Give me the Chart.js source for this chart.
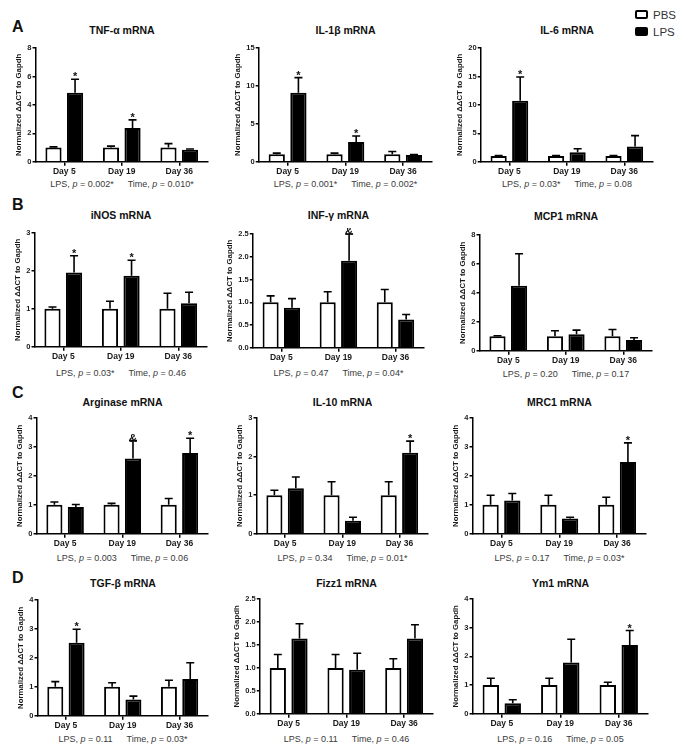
<!DOCTYPE html>
<html>
<head>
<meta charset="utf-8">
<script src="https://cdn.jsdelivr.net/npm/chart.js@4.4.1/dist/chart.umd.min.js"></script>
<style>
  html, body { margin: 0; padding: 0; background: #fff; }
  #fig { position: relative; width: 693px; height: 750px; overflow: hidden; font-family: 'Liberation Sans', Arial, sans-serif; color: #222; }
  #fig canvas { position: absolute; }
  .letter { position: absolute; font-weight: bold; font-size: 16px; line-height: 16px; color: #111; }
  .ttl { position: absolute; font-weight: bold; font-size: 10.5px; transform: translate(-50%, -50%); white-space: nowrap; color: #111; }
  .pval { position: absolute; font-size: 9px; color: #3a3a3a; transform: translate(-50%, -50%); white-space: nowrap; }
  .pval .gap { display: inline-block; width: 14px; }
  .key { position: absolute; left: 635px; width: 13px; height: 9px; box-sizing: border-box; border: 2px solid #000; border-radius: 2px; }
  .keytxt { position: absolute; left: 653px; font-size: 11.5px; line-height: 12px; color: #333; }
</style>
</head>
<body>
<div id="fig">
  <div class="letter" style="left:12px;top:19px">A</div>
  <div class="letter" style="left:12px;top:197px">B</div>
  <div class="letter" style="left:12px;top:385px">C</div>
  <div class="letter" style="left:12px;top:570px">D</div>
  <div class="key" style="top:10px;background:#fff"></div>
  <div class="keytxt" style="top:9px">PBS</div>
  <div class="key" style="top:27px;background:#000"></div>
  <div class="keytxt" style="top:26px">LPS</div>
</div>
<script>
const days = ['Day 5', 'Day 19', 'Day 36']

// A
const tnfPbs = [1, 1, 1]
const tnfPbsErr = [0.05, 0.1, 0.28]
const tnfLps = [4.85, 2.37, 0.85]
const tnfLpsErr = [0.95, 0.58, 0.05]
const tnfMarks = ['*', '*', '']

const il1bPbs = [1, 1, 1]
const il1bPbsErr = [0.15, 0.15, 0.35]
const il1bLps = [9.1, 2.6, 0.9]
const il1bLpsErr = [2.0, 0.8, 0.05]
const il1bMarks = ['*', '*', '']

const il6Pbs = [1, 1, 1]
const il6PbsErr = [0.1, 0.1, 0.1]
const il6Lps = [10.75, 1.7, 2.7]
const il6LpsErr = [4.15, 0.6, 1.9]
const il6Marks = ['*', '', '']

// B
const inosPbs = [1, 1, 1]
const inosPbsErr = [0.05, 0.2, 0.41]
const inosLps = [1.96, 1.87, 1.15]
const inosLpsErr = [0.44, 0.41, 0.29]
const inosMarks = ['*', '*', '']

const infgPbs = [1, 1, 1]
const infgPbsErr = [0.14, 0.23, 0.28]
const infgLps = [0.88, 1.91, 0.62]
const infgLpsErr = [0.2, 0.59, 0.11]
const infgMarks = ['', '&', '']

const mcp1Pbs = [1, 1, 1]
const mcp1PbsErr = [0.04, 0.38, 0.47]
const mcp1Lps = [4.5, 1.15, 0.74]
const mcp1LpsErr = [2.2, 0.28, 0.16]
const mcp1Marks = ['', '', '']

// C
const argPbs = [1, 1, 1]
const argPbsErr = [0.1, 0.05, 0.22]
const argLps = [0.93, 2.6, 2.79]
const argLpsErr = [0.08, 0.62, 0.51]
const argMarks = ['', '&', '*']

const il10Pbs = [1, 1, 1]
const il10PbsErr = [0.13, 0.35, 0.35]
const il10Lps = [1.18, 0.34, 2.1]
const il10LpsErr = [0.29, 0.09, 0.3]
const il10Marks = ['', '', '*']

const mrc1Pbs = [1, 1, 1]
const mrc1PbsErr = [0.33, 0.33, 0.26]
const mrc1Lps = [1.15, 0.53, 2.48]
const mrc1LpsErr = [0.24, 0.04, 0.66]
const mrc1Marks = ['', '', '*']

// D
const tgfbPbs = [1, 1, 1]
const tgfbPbsErr = [0.18, 0.14, 0.23]
const tgfbLps = [2.52, 0.56, 1.27]
const tgfbLpsErr = [0.47, 0.12, 0.56]
const tgfbMarks = ['*', '', '']

const fizzPbs = [1, 1, 1]
const fizzPbsErr = [0.29, 0.29, 0.2]
const fizzLps = [1.64, 0.96, 1.64]
const fizzLpsErr = [0.32, 0.36, 0.3]
const fizzMarks = ['', '', '']

const ym1Pbs = [1, 1, 1]
const ym1PbsErr = [0.24, 0.24, 0.1]
const ym1Lps = [0.37, 1.79, 2.4]
const ym1LpsErr = [0.12, 0.81, 0.5]
const ym1Marks = ['', '', '*']

// box = [y axis x, top tick y, x axis end, zero y]; ty = title y; py = p-value y
const panels = [
  { title: 'TNF-α mRNA', pbs: tnfPbs, pbsErr: tnfPbsErr, lps: tnfLps, lpsErr: tnfLpsErr, marks: tnfMarks, max: 8, step: 2, p: ['0.002*', '0.010*'], box: [36, 48, 208, 162], ty: 30, py: 184 },
  { title: 'IL-1β mRNA', pbs: il1bPbs, pbsErr: il1bPbsErr, lps: il1bLps, lpsErr: il1bLpsErr, marks: il1bMarks, max: 15, step: 5, p: ['0.001*', '0.002*'], box: [259, 48, 432, 162], ty: 30, py: 184 },
  { title: 'IL-6 mRNA', pbs: il6Pbs, pbsErr: il6PbsErr, lps: il6Lps, lpsErr: il6LpsErr, marks: il6Marks, max: 20, step: 5, p: ['0.03*', '0.08'], box: [481, 48, 653, 162], ty: 30, py: 184 },
  { title: 'iNOS mRNA', pbs: inosPbs, pbsErr: inosPbsErr, lps: inosLps, lpsErr: inosLpsErr, marks: inosMarks, max: 3, step: 1, p: ['0.03*', '0.46'], box: [35, 233, 207, 347], ty: 215, py: 373 },
  { title: 'INF-γ mRNA', pbs: infgPbs, pbsErr: infgPbsErr, lps: infgLps, lpsErr: infgLpsErr, marks: infgMarks, max: 2.5, step: 0.5, p: ['0.47', '0.04*'], box: [253, 234, 424, 348], ty: 215, py: 373 },
  { title: 'MCP1 mRNA', pbs: mcp1Pbs, pbsErr: mcp1PbsErr, lps: mcp1Lps, lpsErr: mcp1LpsErr, marks: mcp1Marks, max: 8, step: 2, p: ['0.20', '0.17'], box: [480, 235, 652, 351], ty: 216, py: 374 },
  { title: 'Arginase mRNA', pbs: argPbs, pbsErr: argPbsErr, lps: argLps, lpsErr: argLpsErr, marks: argMarks, max: 4, step: 1, p: ['0.003', '0.06'], box: [37, 418, 208, 534], ty: 402, py: 558 },
  { title: 'IL-10 mRNA', pbs: il10Pbs, pbsErr: il10PbsErr, lps: il10Lps, lpsErr: il10LpsErr, marks: il10Marks, max: 3, step: 1, p: ['0.34', '0.01*'], box: [257, 418, 428, 534], ty: 402, py: 558 },
  { title: 'MRC1 mRNA', pbs: mrc1Pbs, pbsErr: mrc1PbsErr, lps: mrc1Lps, lpsErr: mrc1LpsErr, marks: mrc1Marks, max: 4, step: 1, p: ['0.17', '0.03*'], box: [473, 418, 646, 534], ty: 402, py: 558 },
  { title: 'TGF-β mRNA', pbs: tgfbPbs, pbsErr: tgfbPbsErr, lps: tgfbLps, lpsErr: tgfbLpsErr, marks: tgfbMarks, max: 4, step: 1, p: ['0.11', '0.03*'], box: [38, 600, 208, 716], ty: 583, py: 739 },
  { title: 'Fizz1 mRNA', pbs: fizzPbs, pbsErr: fizzPbsErr, lps: fizzLps, lpsErr: fizzLpsErr, marks: fizzMarks, max: 2.5, step: 0.5, p: ['0.11', '0.46'], box: [260, 599, 433, 714], ty: 583, py: 739 },
  { title: 'Ym1 mRNA', pbs: ym1Pbs, pbsErr: ym1PbsErr, lps: ym1Lps, lpsErr: ym1LpsErr, marks: ym1Marks, max: 4, step: 1, p: ['0.16', '0.05'], box: [473, 599, 648, 714], ty: 583, py: 739 }
]

const font = "'Liberation Sans', Arial, sans-serif"
const fig = document.getElementById('fig')

// upward error bars with caps, plus significance marks above them
const errorBars = {
  id: 'errorBars',
  afterDatasetsDraw(chart) {
    const ctx = chart.ctx
    const yScale = chart.scales.y
    chart.data.datasets.forEach((ds, i) => {
      const meta = chart.getDatasetMeta(i)
      meta.data.forEach((bar, j) => {
        const top = yScale.getPixelForValue(ds.data[j] + ds.errors[j])
        ctx.save()
        ctx.strokeStyle = '#000'
        ctx.lineWidth = 1.6
        ctx.beginPath()
        ctx.moveTo(bar.x, bar.y)
        ctx.lineTo(bar.x, top)
        ctx.moveTo(bar.x - 4, top)
        ctx.lineTo(bar.x + 4, top)
        ctx.stroke()
        if (ds.marks && ds.marks[j]) {
          ctx.fillStyle = '#111'
          ctx.font = 'bold 11px ' + font
          ctx.textAlign = 'center'
          ctx.textBaseline = 'alphabetic'
          ctx.fillText(ds.marks[j], bar.x, top + 1)
        }
        ctx.restore()
      })
    })
  }
}

function makeConfig(p) {
  return {
    type: 'bar',
    data: {
      labels: days,
      datasets: [
        { label: 'PBS', data: p.pbs, errors: p.pbsErr, backgroundColor: '#fff', borderColor: '#000', borderWidth: 2 },
        { label: 'LPS', data: p.lps, errors: p.lpsErr, marks: p.marks, backgroundColor: '#000', borderColor: '#000', borderWidth: 2 }
      ]
    },
    options: {
      responsive: false,
      animation: false,
      layout: { padding: { top: 6, right: 4, left: 2, bottom: 0 } },
      datasets: { bar: { categoryPercentage: 0.75, barPercentage: 0.75 } },
      plugins: { legend: { display: false }, tooltip: { enabled: false } },
      scales: {
        x: {
          grid: { offset: false, drawOnChartArea: false, drawTicks: true, tickLength: 4, color: '#000', lineWidth: 1.5 },
          border: { display: true, color: '#000', width: 1.5 },
          ticks: { color: '#1a1a1a', padding: 1, font: { family: font, size: 8.5, weight: 'bold' } }
        },
        y: {
          min: 0,
          max: p.max,
          grid: { drawOnChartArea: false, drawTicks: true, tickLength: 3, color: '#000', lineWidth: 1.5 },
          border: { display: true, color: '#000', width: 1.5 },
          ticks: {
            stepSize: p.step,
            color: '#1a1a1a',
            padding: 1,
            font: { family: font, size: 7.5, weight: 'bold' },
            callback: v => p.step < 1 ? v.toFixed(1) : v
          },
          title: {
            display: true,
            text: 'Normalized ΔΔCT to Gapdh',
            color: '#1a1a1a',
            padding: { top: 0, bottom: 3 },
            font: { family: font, size: 7.8, weight: 'bold' }
          }
        }
      }
    },
    plugins: [errorBars]
  }
}

function makeChart(p, w, h) {
  const canvas = document.createElement('canvas')
  canvas.width = w
  canvas.height = h
  fig.appendChild(canvas)
  return new Chart(canvas, makeConfig(p))
}

panels.forEach(p => {
  const [ax, top, right, bottom] = p.box
  // first pass only to measure axis sizes
  const probe = makeChart(p, 300, 200)
  const a = probe.chartArea
  const w = Math.round(a.left + (right - ax) + (300 - a.right))
  const h = Math.round(a.top + (bottom - top) + (200 - a.bottom))
  const probeCanvas = probe.canvas
  probe.destroy()
  probeCanvas.remove()

  const chart = makeChart(p, w, h)
  const b = chart.chartArea
  chart.canvas.style.left = (ax - b.left) + 'px'
  chart.canvas.style.top = (top - b.top) + 'px'

  const cx = (ax + right) / 2
  const t = document.createElement('div')
  t.className = 'ttl'
  t.style.left = cx + 'px'
  t.style.top = p.ty + 'px'
  t.textContent = p.title
  fig.appendChild(t)

  const pv = document.createElement('div')
  pv.className = 'pval'
  pv.style.left = cx + 'px'
  pv.style.top = p.py + 'px'
  pv.innerHTML = 'LPS, <i>p</i> = ' + p.p[0] + '<span class="gap"></span>Time, <i>p</i> = ' + p.p[1]
  fig.appendChild(pv)
})
</script>
</body>
</html>
